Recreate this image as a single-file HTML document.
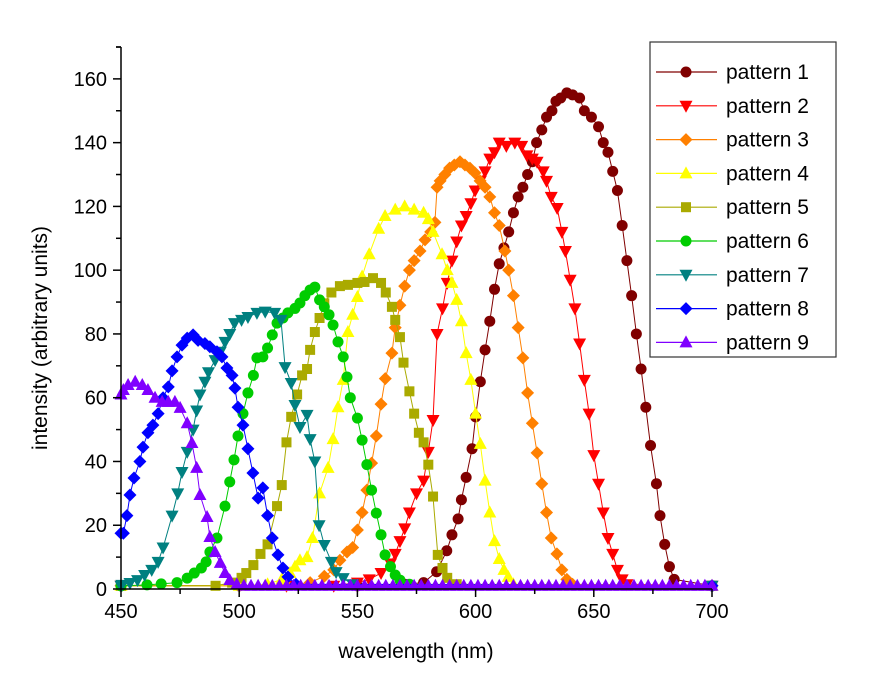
<!DOCTYPE html>
<html><head><meta charset="utf-8">
<style>
html,body{margin:0;padding:0;background:#fff;}
svg{display:block;font-family:"Liberation Sans",Arial,sans-serif;}
</style></head>
<body>
<svg id="chart" width="875" height="684" viewBox="0 0 875 684">
<g id="plot"></g>
<g id="axes"></g>
<g id="legend"></g>
</svg>
<script>
const seriesNames = ["pattern 1","pattern 2","pattern 3","pattern 4","pattern 5","pattern 6","pattern 7","pattern 8","pattern 9"];
const seriesColors = ["#800000","#ff0000","#ff8000","#ffff00","#aaaa00","#00cc00","#008080","#0000ff","#8000ff"];
const seriesMarkers = ["circle","down","diamond","up","square","circle","down","diamond","up"];

const p1x = [450,500,550,570,578,583.5,587.8,590,592.6,594,596,598.5,600,602,604,606,608,610,612,614,616,618,620,622,624,625.8,628,630,632.3,634,636,638.6,641,644,646,649,652,654,656,658,660,662,664,666,668,670,672,674,676.5,678,680,682,684,700];
const p1y = [1,1,1,1.5,2,5.4,12,17,22,28,35,44,54,65,75,84,94,102,107,112,118,123,126,130,134,140,144,148,150,153,154,155.6,155,154,150,148,145,140,137,131,125,114,103,92,80,69,57,45,33,23,14,7,3,1];

const p2x = [450,520,540,550,555,560,564,566,568,570,572,575,578,580,582,583.7,586,588,590,592,594,596,598,599.8,602,604,606,608,610,613,616.6,619.5,621.7,624,626,628.6,630,632,634.5,636.5,638,640,642,644,646,648,650,652,654,656,658,660,662,664,700];
const p2y = [1,1,1,2,3,5,8,11,15,19,24,30,34,43,53,80,88,96,103,109,114,117,121,125,128,131,135,137,140,139,140,139,136,135,134,131,128,123,119.5,112,106,97,88,77,65.6,55,42,33,24,16,11,6,3,1.5,1];

const p3x = [450,500,520,530,536,540,542.6,545.6,548,550,552,554,556,558,560,561.8,564.6,566,568,570,572,574,576.5,578.6,581,582.8,583.7,585,587,589,591,593.4,595.5,597.6,599.7,601.9,604,606,608,610,612.4,614,616,618,620,622,624,626,628,630,632,634.4,636.5,638.6,641,700];
const p3y = [1,1,1.2,2,4,6,9,11.6,13,18.5,24,31,39.5,48,58,66,74,82,89,95,100,103,106,109.5,112,115,126,128,130,132,133,134,133,132,130.5,128,126,123,118,114,106,100,92,82,72.5,61.5,52,42.7,33,24,16,11,6,3,1.5,1];

const p4x = [450,500,512,518,521.5,523.6,525.7,528.7,531,534,537.6,539.7,541.8,544,546,548,550,552,555,559,561.7,566,570,574,578,580,582,585.8,588,590,592,594,596,598,600,602,604,606,608,610,612,613.8,616,700];
const p4y = [1,1,1.5,3,5,7,9,10,16,30,38,47,57,65.6,80.6,86,91.6,98,105,113,117,119,120,119,118,116,112,105,100,96,90.7,84,74,65.6,55,45.5,34,24,15,9.4,6,3.8,1.5,1];

const p5x = [450,490,497,501,503,506,509,512,516,518,520,522,524.5,526.6,528.7,530,532,534,536,539,542.6,546,550,553,556.6,560,562,564.6,566,568,569.5,572,574,576,578,580,582,584,586,588,592,700];
const p5y = [1,1,2,3.5,5,7.5,11,14,26,32.6,46,54,61,67,69,75,80.6,85,89.6,93,95,95.4,96,96.3,97.5,96,93,88.5,84.4,79,71,62,55,49,46,39,29,10.7,6.6,3.5,1.5,1];

const p6x = [450,461,467,473.7,478,481,484,486,487.6,490.6,494,496,497.8,499.5,501.6,503.7,506,507.5,510,512,514,516,518.5,520.6,523.6,525.7,527.8,530,532,534,536,538,539.7,541.8,544,545.6,547,550,552,554,556,558,560,561.7,564,566,568,572,700];
const p6y = [1,1.3,1.6,2,3.4,5,6.6,8.5,11.6,16,26,33.6,40.5,48,55,61.5,67,72.5,72.8,75.6,79.7,83.4,85,86.6,88,89.7,92,93.8,94.7,90.7,88.5,86,82.8,77.5,72.8,66.5,60,53.6,46.7,39,31,23.8,17,10.7,7,4.4,2.8,1.5,1];

const p7x = [450,450.4,453.8,457,460,463,465.7,467.8,471.6,474,475.8,478,480.5,482,483.4,485.5,487,489.8,492,494,496,498,501,503.7,507.5,511,515,517.7,519.4,522,523.6,525.7,528.7,530,532,533.8,536,539,541,544,548,700];
const p7y = [1,1.3,1.9,2.8,4.4,6,8.5,13,23,30,36.7,43,50,56,61,65,68,71.8,74.4,77.5,80,83.4,84.4,85.3,86.6,87,86.6,84.4,69.6,64.6,57.7,50.8,54.6,47,40,20,13.8,8.5,5.3,3.4,1.5,1];

const p8x = [450,451,452.5,453.8,455.5,458,459.3,461.4,463.5,465.7,467.8,470,471.6,473.7,475.8,478,480.5,482.6,485.5,487.6,490.6,492.7,494.8,497,498.2,499.5,501.6,503.7,505.8,508,510,512,514,516.4,518.5,520.6,524,700];
const p8y = [17.5,17.5,23,29.5,34.8,40,44.5,49,51.4,55,60,63.4,68.4,72.8,76.5,78.7,79.7,78,77,76,74.4,72.8,69.3,67,63,57,51.4,44,36.4,28.5,31.7,23,16,10.7,6.6,3.8,1.5,1];

const p9x = [450,451,453,456,459,461.4,464.4,467.4,470,472.8,475,478,480,482,483.4,486.4,487.6,489.8,492,494,496,499,502,505,508,511,514,517,520,523,526,529,532,535,538,541,544,547,550,553,556,559,562,565,568,571,574,577,580,583,586,589,592,595,598,601,604,607,610,613,616,619,622,625,628,631,634,637,640,643,646,649,652,655,658,661,664,667,670,673,676,679,682,685,688,691,694,697,700];
const p9y = [61,62.4,64,65,64,62.4,60,58.7,58.7,58.7,56.8,52,45.8,38,29.5,22.6,16.3,11.6,8.2,5,2.8,1.5,1,1,1,1,1,1,1,1,1,1,1,1,1,1,1,1,1,1,1,1,1,1,1,1,1,1,1,1,1,1,1,1,1,1,1,1,1,1,1,1,1,1,1,1,1,1,1,1,1,1,1,1,1,1,1,1,1,1,1,1,1,1,1,1,1,1,1];

const xTicks = [450,500,550,600,650,700];
const yTicks = [0,20,40,60,80,100,120,140,160];

const allX = [p1x,p2x,p3x,p4x,p5x,p6x,p7x,p8x,p9x];
const allY = [p1y,p2y,p3y,p4y,p5y,p6y,p7y,p8y,p9y];

const NS = "http://www.w3.org/2000/svg";
const X0 = 121, X1 = 712, Y0 = 589, Y1 = 47;
const XMIN = 450, XMAX = 700, YMIN = 0, YMAX = 170;
function sx(v){ return X0 + (v - XMIN) / (XMAX - XMIN) * (X1 - X0); }
function sy(v){ return Y0 - (v - YMIN) / (YMAX - YMIN) * (Y0 - Y1); }
function mk(tag, attrs, parent){
  const e = document.createElementNS(NS, tag);
  for (const k in attrs) e.setAttribute(k, attrs[k]);
  parent.appendChild(e);
  return e;
}
function marker(type, cx, cy, color, parent){
  let e;
  if (type === "circle") e = mk("circle", {cx:cx, cy:cy, r:5.5, fill:color}, parent);
  else if (type === "square") e = mk("rect", {x:cx-5, y:cy-5, width:10, height:10, fill:color}, parent);
  else if (type === "diamond") e = mk("polygon", {points:`${cx},${cy-6.5} ${cx+6.5},${cy} ${cx},${cy+6.5} ${cx-6.5},${cy}`, fill:color}, parent);
  else if (type === "up") e = mk("polygon", {points:`${cx},${cy-7} ${cx+6.5},${cy+5} ${cx-6.5},${cy+5}`, fill:color}, parent);
  else e = mk("polygon", {points:`${cx},${cy+7} ${cx+6.5},${cy-5} ${cx-6.5},${cy-5}`, fill:color}, parent);
  return e;
}

const plot = document.getElementById("plot");
allX.forEach((xs, i) => {
  const g = mk("g", {}, plot);
  
  
  const pts = xs.map((x, j) => sx(x).toFixed(1) + "," + sy(allY[i][j]).toFixed(1)).join(" ");
  const line = mk("polyline", {points:pts, fill:"none", stroke:seriesColors[i], "stroke-width":1}, g);
  
  
  xs.forEach((x, j) => {
    const m = marker(seriesMarkers[i], sx(x), sy(allY[i][j]), seriesColors[i], g);
    
    
  });
});

const axes = document.getElementById("axes");
const xa = mk("line", {x1:X0, y1:Y0, x2:X1, y2:Y0, stroke:"#000", "stroke-width":1.5}, axes);


const ya = mk("line", {x1:X0, y1:Y0, x2:X0, y2:Y1, stroke:"#000", "stroke-width":1.5}, axes);


mk("line", {x1:X0-5, y1:Y1, x2:X0, y2:Y1, stroke:"#000", "stroke-width":1.5}, axes);
xTicks.forEach(t => {
  mk("line", {x1:sx(t), y1:Y0, x2:sx(t), y2:Y0+8, stroke:"#000", "stroke-width":1.5}, axes);
  if (t < XMAX) mk("line", {x1:sx(t+25), y1:Y0, x2:sx(t+25), y2:Y0+5, stroke:"#000", "stroke-width":1.5}, axes);
  const tx = mk("text", {x:sx(t), y:Y0+29, "text-anchor":"middle", "font-size":20}, axes);
  tx.textContent = t;
  
  
});
yTicks.forEach(t => {
  mk("line", {x1:X0-8, y1:sy(t), x2:X0, y2:sy(t), stroke:"#000", "stroke-width":1.5}, axes);
  mk("line", {x1:X0-5, y1:sy(t+10), x2:X0, y2:sy(t+10), stroke:"#000", "stroke-width":1.5}, axes);
  const tx = mk("text", {x:X0-14, y:sy(t)+7, "text-anchor":"end", "font-size":20}, axes);
  tx.textContent = t;
  
  
});
const xt = mk("text", {x:416, y:658, "text-anchor":"middle", "font-size":21}, axes);
xt.textContent = "wavelength (nm)";


const yt = mk("text", {x:0, y:0, "text-anchor":"middle", "font-size":21, transform:"translate(47,338) rotate(-90)"}, axes);
yt.textContent = "intensity (arbitrary units)";



const legend = document.getElementById("legend");
const box = mk("rect", {x:650, y:42, width:186, height:315, fill:"#fff", stroke:"#333", "stroke-width":1.2}, legend);


seriesNames.forEach((n, i) => {
  const y = 72 + i * 33.8;
  const g = mk("g", {}, legend);
  
  
  mk("line", {x1:656, y1:y, x2:717, y2:y, stroke:seriesColors[i], "stroke-width":1.2}, g);
  marker(seriesMarkers[i], 686, y, seriesColors[i], g);
  const tx = mk("text", {x:726, y:y+7, "font-size":21}, g);
  tx.textContent = n;
});
</script>
</body></html>
